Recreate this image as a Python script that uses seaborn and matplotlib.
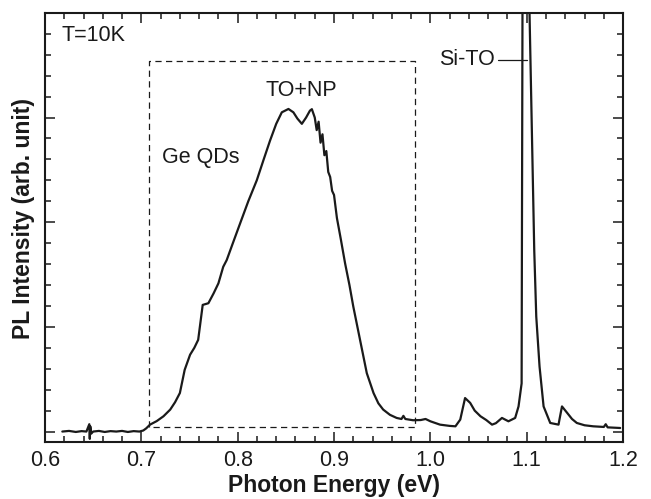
import matplotlib
matplotlib.use('Agg')
import matplotlib.pyplot as plt
import pandas as pd
import seaborn as sns
from matplotlib.ticker import MultipleLocator

# valores (energia em eV, intensidade em unidades arbitrarias)
energia = [0.618, 0.625, 0.632, 0.638, 0.643, 0.646, 0.6465, 0.647, 0.648, 0.650,
           0.656, 0.662, 0.668, 0.674, 0.680, 0.686, 0.692, 0.698, 0.702, 0.705,
           0.709, 0.716, 0.723, 0.730, 0.735, 0.740, 0.745, 0.7506, 0.755, 0.759,
           0.7637, 0.7696, 0.775, 0.780, 0.785, 0.7886, 0.795, 0.8025, 0.811, 0.8198,
           0.827, 0.8336, 0.840, 0.8458, 0.8527, 0.8578, 0.862, 0.8666, 0.871, 0.875,
           0.877, 0.880, 0.882, 0.884, 0.886, 0.888, 0.890, 0.892, 0.894, 0.896,
           0.898, 0.900, 0.903, 0.907, 0.9115, 0.916, 0.920, 0.927, 0.934, 0.941,
           0.946, 0.951, 0.958, 0.965, 0.970, 0.972, 0.974, 0.982, 0.990, 0.995,
           1.000, 1.010, 1.020, 1.026, 1.031, 1.036, 1.0413, 1.046, 1.052, 1.058,
           1.064, 1.068, 1.0743, 1.081, 1.088, 1.0915, 1.0947, 1.0950, 1.0956, 1.0990,
           1.1029, 1.1078, 1.1099, 1.1133, 1.1175, 1.121, 1.1244, 1.133, 1.1345, 1.1366,
           1.142, 1.147, 1.152, 1.160, 1.169, 1.180, 1.182, 1.184, 1.197]
intensidade = [0.0, 0.03, -0.02, 0.02, 0.0, 0.35, -0.35, 0.25, -0.1, 0.0,
               0.03, -0.02, 0.02, 0.0, 0.03, -0.02, 0.02, 0.0, 0.05, 0.15,
               0.33, 0.5, 0.73, 1.05, 1.4, 1.84, 2.95, 3.67, 4.0, 4.38,
               6.05, 6.13, 6.6, 7.08, 7.87, 8.19, 9.0, 9.94, 11.0, 12.0,
               13.0, 13.9, 14.7, 15.25, 15.41, 15.25, 14.95, 14.7, 15.0, 15.33,
               15.4, 15.0, 14.4, 14.8, 13.8, 14.2, 13.2, 13.4, 12.4, 12.16,
               11.5, 11.3, 10.2, 9.2, 8.03, 7.0, 5.97, 4.38, 2.79, 1.84,
               1.35, 1.05, 0.8, 0.65, 0.6, 0.75, 0.6, 0.54, 0.55, 0.6,
               0.49, 0.33, 0.27, 0.25, 0.57, 1.6, 1.37, 1.0, 0.73, 0.55,
               0.33, 0.4, 0.65, 0.49, 0.65, 1.2, 2.3, 8.67, 20.0, 60.0,
               20.0, 8.67, 5.49, 3.11, 1.2, 0.8, 0.41, 0.33, 0.7, 1.2,
               0.89, 0.6, 0.41, 0.3, 0.25, 0.22, 0.35, 0.2, 0.17]

# caixa tracejada da regiao dos Ge QDs
caixa_x = [0.708, 0.984]
caixa_y = [0.2, 17.7]

df = pd.DataFrame({'Energia': energia, 'Intensidade': intensidade})

sns.set_style('ticks')
plt.rcParams['font.family'] = ['Liberation Sans', 'DejaVu Sans']

fig = plt.figure(figsize=(6.51, 4.99), dpi=100)
ax = fig.add_axes([0.0691, 0.1142, 0.888, 0.860])

sns.lineplot(data=df, x='Energia', y='Intensidade', sort=False, estimator=None,
             color='#1a1a1a', linewidth=1.6, ax=ax)

# caixa tracejada
ax.plot([caixa_x[0], caixa_x[0], caixa_x[1], caixa_x[1], caixa_x[0]],
        [caixa_y[0], caixa_y[1], caixa_y[1], caixa_y[0], caixa_y[0]],
        ls=(0, (5, 3.5)), color='#1a1a1a', lw=0.9)

ax.text(0.6173, 18.9, 'T=10K', fontsize=15.5, va='center', ha='left', color='#1a1a1a')
ax.text(0.8285, 16.3, 'TO+NP', fontsize=15.5, va='center', ha='left', color='#1a1a1a')
ax.text(0.7212, 13.1, 'Ge QDs', fontsize=15.5, va='center', ha='left', color='#1a1a1a')
ax.text(1.0673, 17.75, 'Si-TO', fontsize=15.5, va='center', ha='right', color='#1a1a1a')
ax.plot([1.0704, 1.1], [17.75, 17.75], color='#1a1a1a', lw=0.9)

ax.set_xlim(0.6, 1.2)
ax.set_ylim(-0.5, 20)
ax.xaxis.set_major_locator(MultipleLocator(0.1))
ax.xaxis.set_minor_locator(MultipleLocator(0.02))
ax.yaxis.set_major_locator(MultipleLocator(5))
ax.yaxis.set_minor_locator(MultipleLocator(1))
ax.set_xticks([0.6, 0.7, 0.8, 0.9, 1.0, 1.1, 1.2])
ax.set_xticklabels(['0.6', '0.7', '0.8', '0.9', '1.0', '1.1', '1.2'])
ax.set_yticklabels([])
ax.tick_params(which='both', direction='in', top=True, right=True, color='#1a1a1a',
               width=1.1, labelsize=15.5, labelcolor='#1a1a1a', pad=6)
ax.tick_params(which='major', length=7)
ax.tick_params(which='minor', length=4)
for s in ax.spines.values():
    s.set_linewidth(1.5)
    s.set_color('#1a1a1a')

ax.set_xlabel('Photon Energy (eV)', fontsize=16.5, fontweight='bold', color='#1a1a1a', labelpad=2)
ax.set_ylabel('PL Intensity (arb. unit)', fontsize=16.5, fontweight='bold', color='#1a1a1a', labelpad=6)
ax.yaxis.set_label_coords(-0.018, 0.52)

plt.savefig('out.png', dpi=100)
